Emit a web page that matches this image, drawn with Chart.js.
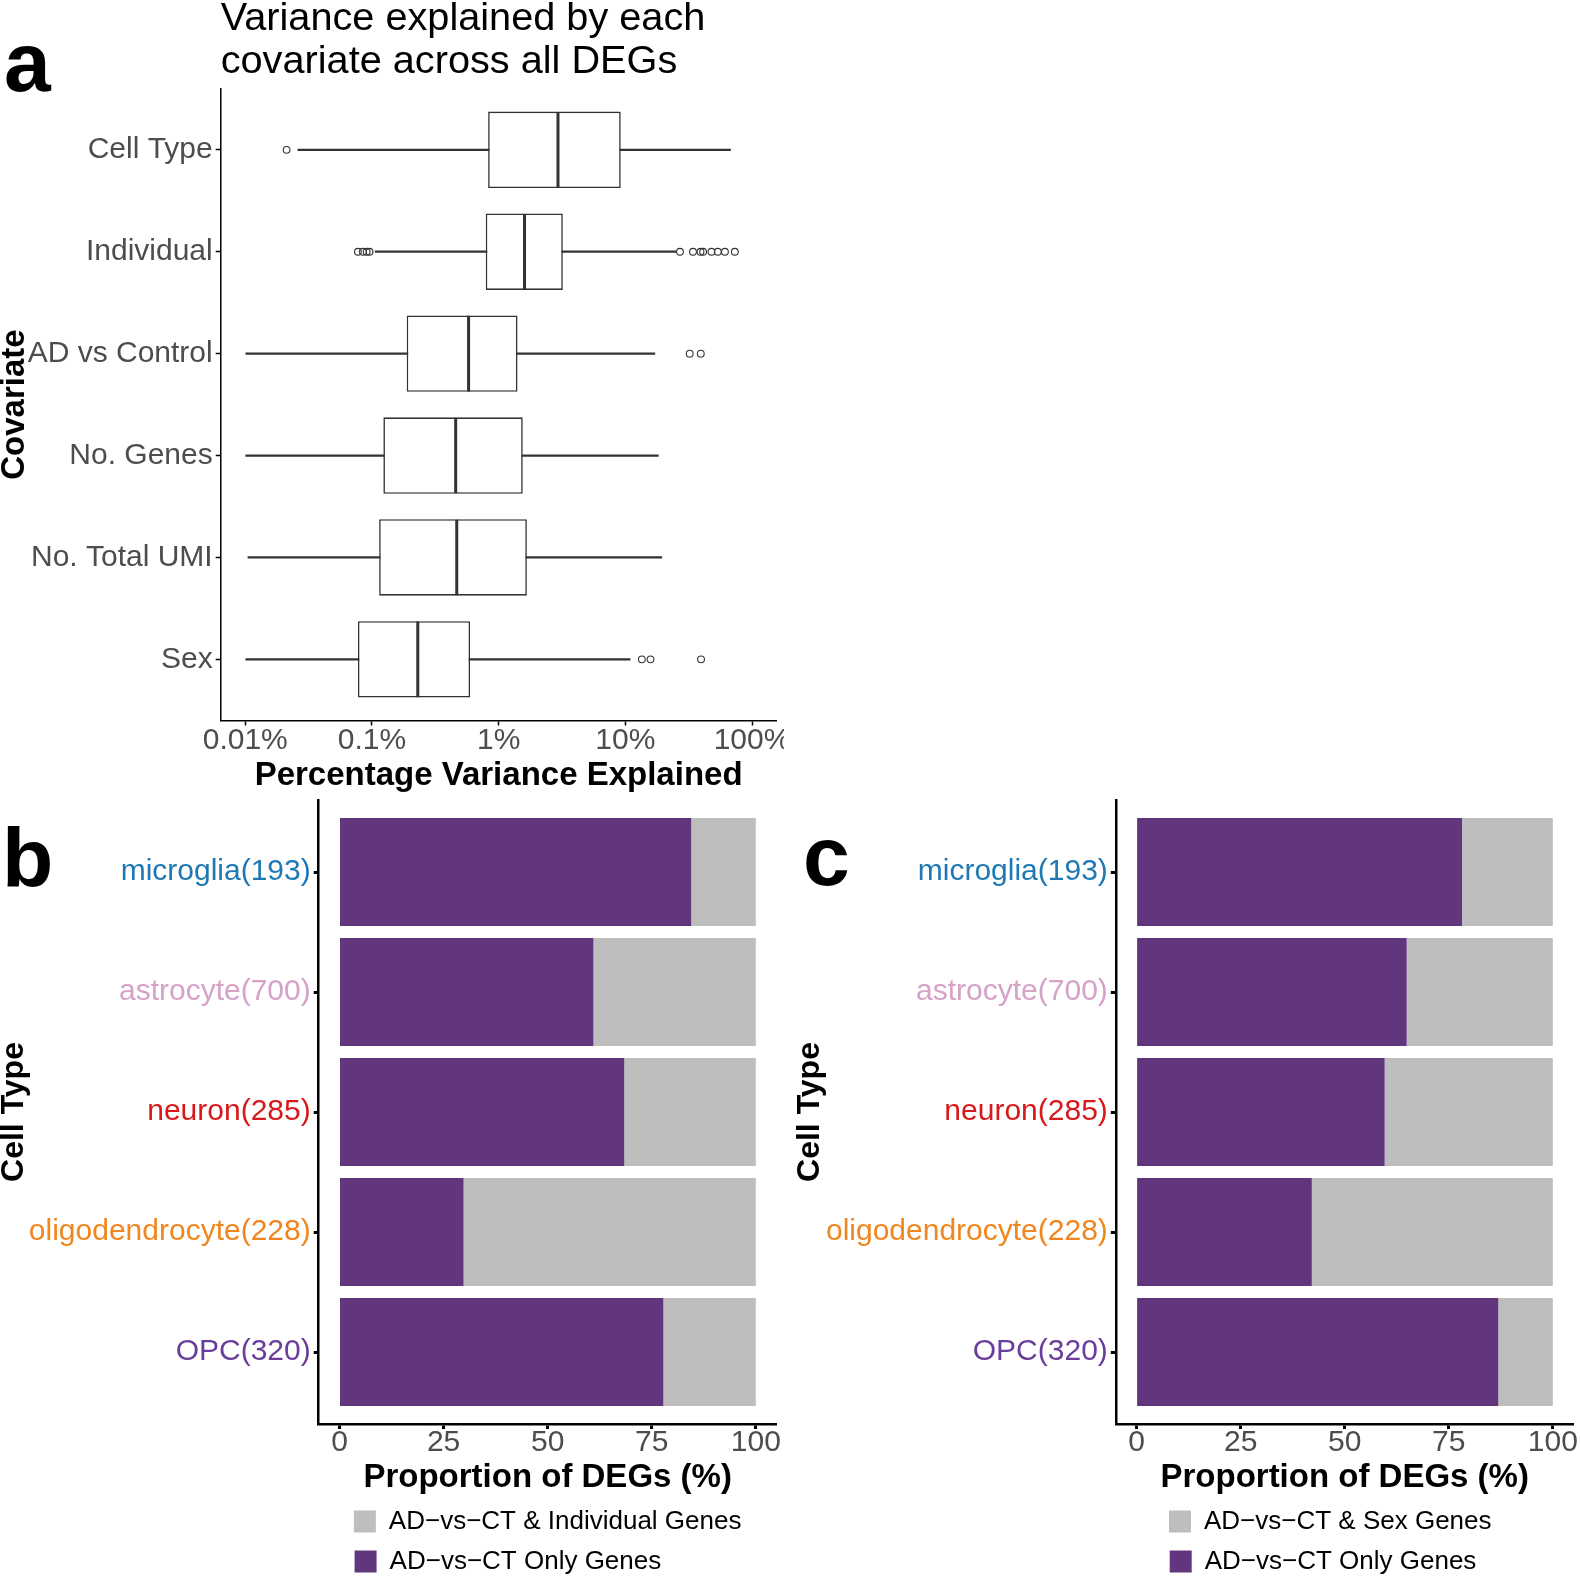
<!DOCTYPE html>
<html>
<head>
<meta charset="utf-8">
<script src="https://cdn.jsdelivr.net/npm/chart.js@4.4.1/dist/chart.umd.min.js"></script>
<style>
  html, body { margin: 0; padding: 0; background: #ffffff; width: 1580px; height: 1579px; overflow: hidden; }
  .panel { position: absolute; line-height: 0; }
  canvas { display: block; }
  .letter { position: absolute; font-family: "Liberation Sans", Arial, Helvetica, sans-serif; font-weight: bold; font-size: 84px; line-height: 84px; color: #000; }
</style>
</head>
<body>
<div class="panel" style="left:0px;top:0px;"><canvas id="chartA" width="784" height="796"></canvas></div>
<div class="panel" style="left:0px;top:796px;"><canvas id="chartB" width="796" height="783"></canvas></div>
<div class="panel" style="left:796px;top:796px;"><canvas id="chartC" width="784" height="783"></canvas></div>
<div class="letter" style="left:4px;top:20px;">a</div>
<div class="letter" style="left:2px;top:816px;">b</div>
<div class="letter" style="left:803px;top:814px;">c</div>
<script>
// ---------------- Panel a data (percent variance explained) ----------------
const covariates = ['Cell Type', 'Individual', 'AD vs Control', 'No. Genes', 'No. Total UMI', 'Sex'];
const whiskerLow  = [0.026, 0.106, 0.0101, 0.0101, 0.0105, 0.0101];
const quartile1   = [0.826, 0.791, 0.188, 0.123, 0.114, 0.0775];
const medianVal   = [2.94, 1.60, 0.579, 0.458, 0.467, 0.230];
const quartile3   = [9.2, 3.21, 1.41, 1.55, 1.67, 0.595];
const whiskerHigh = [67.6, 25.3, 17.1, 18.2, 19.4, 10.9];
const outlierCellType   = [0.0212];
const outlierIndividual = [0.0775, 0.0849, 0.0908, 0.0957, 27.0, 34.2, 39.2, 41.1, 47.8, 53.7, 61.1, 73.2];
const outlierADvsCtrl   = [32.2, 39.4];
const outlierNoGenes    = [];
const outlierNoUMI      = [];
const outlierSex        = [13.5, 15.8, 39.6];
const xTicksA      = [0.01, 0.1, 1, 10, 100];
const xTickLabelsA = ['0.01%', '0.1%', '1%', '10%', '100%'];

// ---------------- Panels b / c data ----------------
const cellTypes  = ['microglia(193)', 'astrocyte(700)', 'neuron(285)', 'oligodendrocyte(228)', 'OPC(320)'];
const cellColors = ['#1f78b4', '#d6a2c8', '#d7191c', '#f0861e', '#6a3d9a'];
const onlyPctB   = [84.5, 61.0, 68.4, 29.8, 77.8];   // AD-vs-CT only (vs Individual)
const onlyPctC   = [78.2, 64.9, 59.6, 42.1, 86.9];   // AD-vs-CT only (vs Sex)
const xTicksBC   = [0, 25, 50, 75, 100];

const FONT = '"Liberation Sans", Arial, Helvetica, sans-serif';
Chart.defaults.font.family = FONT;
const BOX = '#333333';
const PURPLE = '#62367c';
const GREY = '#bebebe';

// ---------------- Panel a ----------------
const outlierLists = [outlierCellType, outlierIndividual, outlierADvsCtrl, outlierNoGenes, outlierNoUMI, outlierSex];
const outlierPts = [];
outlierLists.forEach((list, i) => list.forEach(v => outlierPts.push({ x: v, y: i })));
const covIdx = covariates.map((_, i) => i);

new Chart(document.getElementById('chartA'), {
  type: 'bar',
  data: {
    datasets: [
      { type: 'scatter', label: 'Median', data: covariates.map((c, i) => ({ x: medianVal[i], y: i })),
        pointStyle: 'line', pointRotation: 90, pointRadius: 37.8, pointHoverRadius: 37.8,
        pointBorderColor: BOX, pointBorderWidth: 3 },
      { type: 'scatter', label: 'Outliers', data: outlierPts,
        pointStyle: 'circle', pointRadius: 3.4, pointHoverRadius: 3.4,
        pointBorderColor: BOX, pointBackgroundColor: 'rgba(255,255,255,0)', pointBorderWidth: 1.1 },
      { type: 'bar', label: 'IQR', data: covariates.map((c, i) => ({ y: i, x: [quartile1[i], quartile3[i]] })),
        backgroundColor: '#ffffff', borderColor: BOX, borderWidth: 1.6, borderSkipped: false,
        barPercentage: 0.75, categoryPercentage: 1, grouped: false },
      { type: 'bar', label: 'Whiskers', data: covariates.map((c, i) => ({ y: i, x: [whiskerLow[i], whiskerHigh[i]] })),
        backgroundColor: BOX, borderWidth: 0, barThickness: 1.6, grouped: false }
    ]
  },
  options: {
    indexAxis: 'y', responsive: false, animation: false, events: [],
    layout: { autoPadding: false, padding: { left: 0, right: 7.5, top: 0, bottom: 3.5 } },
    plugins: {
      legend: { display: false },
      tooltip: { enabled: false },
      title: {
        display: true, align: 'start', fullSize: false, color: '#000',
        text: ['Variance explained by each', 'covariate across all DEGs'],
        font: { size: 39.7, weight: 'normal', lineHeight: 1.083 },
        padding: { top: -2.9, bottom: 5.6 }
      }
    },
    scales: {
      x: {
        type: 'logarithmic', min: 0.0064, max: 156,
        afterBuildTicks: ax => { ax.ticks = xTicksA.map(v => ({ value: v })); },
        afterFit: ax => { ax.height = 72; ax.paddingLeft = 0; ax.paddingRight = 0; },
        ticks: { callback: (v, i) => xTickLabelsA[i], autoSkip: false, maxRotation: 0, padding: -3,
                 color: '#4d4d4d', font: { size: 30, lineHeight: 1.2 } },
        grid: { display: true, drawOnChartArea: false, drawTicks: true, tickLength: 5, tickWidth: 1.5, tickColor: '#000' },
        border: { display: true, color: '#000', width: 1.5 },
        title: { display: true, text: 'Percentage Variance Explained', color: '#000',
                 font: { size: 33, weight: 'bold', lineHeight: 1 }, padding: 0 }
      },
      y: {
        type: 'linear', min: -0.6, max: 5.6, reverse: true, offset: false,
        afterBuildTicks: ax => { ax.ticks = covIdx.map(v => ({ value: v })); },
        afterFit: ax => { ax.width = 220.7; ax.paddingTop = 0; ax.paddingBottom = 0; },
        ticks: { callback: v => covariates[v], autoSkip: false, padding: 3, color: '#4d4d4d', font: { size: 30 } },
        grid: { display: true, offset: false, drawOnChartArea: false, drawTicks: true, tickLength: 5, tickWidth: 1.5, tickColor: '#000' },
        border: { display: true, color: '#000', width: 1.5 },
        title: { display: true, text: 'Covariate', color: '#000',
                 font: { size: 33, weight: 'bold', lineHeight: 1 }, padding: { top: -2, bottom: 0 } }
      }
    }
  }
});

// ---------------- Panels b and c ----------------
function makeStackChart(canvasId, onlyPct, sharedLabel, rightPad, axisWidth, legendExtra) {
  const idx = cellTypes.map((_, i) => i);
  return new Chart(document.getElementById(canvasId), {
    type: 'bar',
    data: {
      datasets: [
        { label: 'AD\u2212vs\u2212CT Only Genes', data: cellTypes.map((c, i) => ({ y: i, x: onlyPct[i] })),
          backgroundColor: PURPLE, borderWidth: 0, stack: 's', barPercentage: 1, categoryPercentage: 0.9 },
        { label: sharedLabel, data: cellTypes.map((c, i) => ({ y: i, x: 100 - onlyPct[i] })),
          backgroundColor: GREY, borderWidth: 0, stack: 's', barPercentage: 1, categoryPercentage: 0.9 }
      ]
    },
    options: {
      indexAxis: 'y', responsive: false, animation: false, events: [],
      layout: { autoPadding: false, padding: { left: 0, right: rightPad, top: 4, bottom: -5.5 } },
      plugins: {
        tooltip: { enabled: false },
        legend: {
          display: true, position: 'bottom', align: 'center', fullSize: false, reverse: true,
          labels: {
            color: '#000', font: { size: 26 }, boxWidth: 22, boxHeight: 22, padding: 14,
            generateLabels: chart => {
              const items = Chart.defaults.plugins.legend.labels.generateLabels(chart);
              const ctx = chart.ctx;
              ctx.save();
              ctx.font = '26px ' + FONT;
              const maxW = Math.max(...items.map(it => ctx.measureText(it.text).width)) + legendExtra;
              items.forEach(it => {
                while (ctx.measureText(it.text + ' ').width <= maxW + 1) it.text += ' ';
              });
              ctx.restore();
              return items;
            }
          }
        }
      },
      scales: {
        x: {
          type: 'linear', min: -5, max: 105, stacked: true,
          afterBuildTicks: ax => { ax.ticks = xTicksBC.map(v => ({ value: v })); },
          afterFit: ax => { ax.height = 70.5; ax.paddingLeft = 0; ax.paddingRight = 0; },
          ticks: { autoSkip: false, maxRotation: 0, padding: -1, color: '#4d4d4d', font: { size: 30, lineHeight: 1 } },
          grid: { display: true, drawOnChartArea: false, drawTicks: true, tickLength: 5, tickWidth: 3, tickColor: '#000' },
          border: { display: true, color: '#000', width: 2.5 },
          title: { display: true, text: 'Proportion of DEGs (%)', color: '#000',
                   font: { size: 33, weight: 'bold', lineHeight: 1 }, padding: 0 }
        },
        y: {
          type: 'linear', min: -0.6, max: 4.6, reverse: true, offset: false,
          afterBuildTicks: ax => { ax.ticks = idx.map(v => ({ value: v })); },
          afterFit: ax => { ax.width = axisWidth; ax.paddingTop = 0; ax.paddingBottom = 0; },
          ticks: { callback: v => cellTypes[v], autoSkip: false, padding: 3,
                   color: c => cellColors[c.index], font: { size: 30 } },
          grid: { display: true, offset: false, drawOnChartArea: false, drawTicks: true, tickLength: 5, tickWidth: 3, tickColor: '#000' },
          border: { display: true, color: '#000', width: 2.5 },
          title: { display: true, text: 'Cell Type', color: '#000',
                   font: { size: 32, weight: 'bold', lineHeight: 1 }, padding: { top: -2, bottom: 0 } }
        }
      }
    }
  });
}

makeStackChart('chartB', onlyPctB, 'AD\u2212vs\u2212CT & Individual Genes', 19.4, 318.7, 0);
makeStackChart('chartC', onlyPctC, 'AD\u2212vs\u2212CT & Sex Genes', 6.4, 319.8, 30);
</script>
</body>
</html>
